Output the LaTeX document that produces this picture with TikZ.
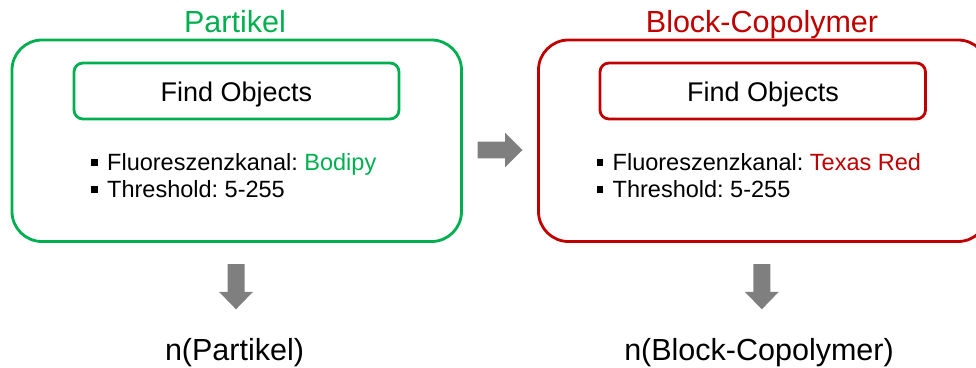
\documentclass[tikz,border=0pt]{standalone}
\usepackage{fontspec}
\setmainfont{Liberation Sans}
\frenchspacing
\definecolor{grn}{HTML}{00B050}
\definecolor{rd}{HTML}{C00000}
\definecolor{arr}{HTML}{7F7F7F}
\tikzset{
  outerbox/.style={draw, line width=2.8pt, rounded corners=30pt},
  innerbox/.style={draw, line width=2.8pt, rounded corners=9pt},
  title/.style={inner sep=0pt, anchor=base, font=\fontsize{30.5}{36}\selectfont},
  boxlabel/.style={inner sep=0pt, anchor=base, font=\fontsize{27}{32}\selectfont},
  item/.style={inner sep=0pt, anchor=base west, font=\fontsize{23.5}{28}\selectfont},
  result/.style={inner sep=0pt, anchor=base, font=\fontsize{30.5}{36}\selectfont},
  blockarrow/.style={fill=arr, draw=none},
}
\newcommand{\sqbullet}{\raisebox{5pt}{\rule{6.5pt}{6.5pt}}\hspace{9.5pt}}
\begin{document}
\begin{tikzpicture}[x=1pt, y=-1pt]
\useasboundingbox (0,0) rectangle (976,367);
\clip (0,0) rectangle (976,367);

% --- Partikel ---
\node[title, text=grn] (t1) at (235,32) {Partikel};
\draw[outerbox, draw=grn] (12,40) rectangle (461.5,241.5);
\draw[innerbox, draw=grn] (74,63) rectangle (399,119);
\node[boxlabel] (f1) at (236.5,101) {Find Objects};
\node[item] (b1a) at (91,170.5) {\sqbullet Fluoreszenzkanal: \textcolor{grn}{Bodipy}};
\node[item] (b1b) at (91,197.5) {\sqbullet Threshold: 5-255};

% --- Block-Copolymer ---
\node[title, text=rd] (t2) at (762,32) {Block-Copolymer};
\draw[outerbox, draw=rd] (538.5,40) rectangle (988,241.5);
\draw[innerbox, draw=rd] (600,63) rectangle (925.5,119);
\node[boxlabel] (f2) at (763,101) {Find Objects};
\node[item] (b2a) at (596.5,170.5) {\sqbullet Fluoreszenzkanal: \textcolor{rd}{Texas Red}};
\node[item] (b2b) at (596.5,197.5) {\sqbullet Threshold: 5-255};

% --- results ---
\node[result] (r1) at (234.5,360.5) {n(Partikel)};
\node[result] (r2) at (759,360.5) {n(Block-Copolymer)};

% --- block arrows ---
\coordinate (h) at (477.5,150);
\fill[blockarrow] (h) ++(0,-8.3) -- ++(27.5,0) -- ++(0,-9) -- ++(17.5,17.3)
  -- ++(-17.5,17.3) -- ++(0,-9) -- ++(-27.5,0) -- cycle;
\coordinate (d1) at (236,264);
\fill[blockarrow] (d1) ++(-8.5,0) -- ++(17,0) -- ++(0,27.8) -- ++(8.5,0)
  -- ++(-17,17.5) -- ++(-17,-17.5) -- ++(8.5,0) -- cycle;
\coordinate (d2) at (761.8,264);
\fill[blockarrow] (d2) ++(-8.5,0) -- ++(17,0) -- ++(0,27.8) -- ++(8.5,0)
  -- ++(-17,17.5) -- ++(-17,-17.5) -- ++(8.5,0) -- cycle;
\end{tikzpicture}
\end{document}
